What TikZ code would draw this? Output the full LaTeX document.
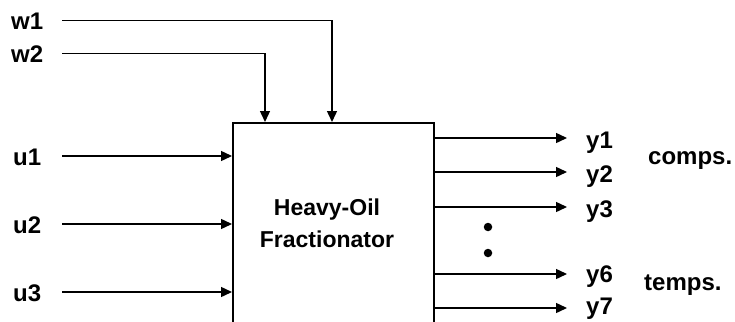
\documentclass[tikz,border=0pt]{standalone}
\usepackage{fontspec}
\setmainfont{Liberation Sans}
\usetikzlibrary{arrows.meta}
\begin{document}
\begin{tikzpicture}[x=1pt,y=-1pt,
  lab/.style={font=\bfseries\fontsize{24}{28}\selectfont, inner sep=0pt, text height=17pt, text depth=0pt},
  conn/.style={line width=1.4pt, -{Triangle[length=11pt,width=10pt]}},
  dotmark/.style={circle, fill, inner sep=0pt, minimum size=8.5pt},
  blockbox/.style={draw, line width=1.8pt, inner sep=0pt, minimum width=201pt, minimum height=240pt}
]
\useasboundingbox (0,0) rectangle (735,321);
\clip (0,0) rectangle (735,321);
% block
\node[blockbox, anchor=north west] (box) at (232,122) {};
\node[font=\bfseries\fontsize{23}{32}\selectfont, align=center, inner sep=0pt] (title) at (327,223) {Heavy-Oil\\Fractionator};
% inputs
\node[lab, anchor=west] (w1) at (11,21) {w1};
\node[lab, anchor=west] (w2) at (11,54) {w2};
\node[lab, anchor=west] (u1) at (13,157) {u1};
\node[lab, anchor=west] (u2) at (13,225) {u2};
\node[lab, anchor=west] (u3) at (13,293) {u3};
\coordinate (w1s) at (62,20.5);
\coordinate (w2s) at (62,53.5);
\coordinate (w1e) at (332,122);
\coordinate (w2e) at (265,122);
\coordinate (u1s) at (62,156);
\coordinate (u2s) at (62,224);
\coordinate (u3s) at (62,292);
\draw[conn] (w1s) -| (w1e);
\draw[conn] (w2s) -| (w2e);
\draw[conn] (u1s) -- (box.west |- u1s);
\draw[conn] (u2s) -- (box.west |- u2s);
\draw[conn] (u3s) -- (box.west |- u3s);
% outputs
\coordinate (y1e) at (567,138);
\coordinate (y2e) at (567,172);
\coordinate (y3e) at (567,207);
\coordinate (y6e) at (567,274);
\coordinate (y7e) at (567,308);
\draw[conn] (box.east |- y1e) -- (y1e);
\draw[conn] (box.east |- y2e) -- (y2e);
\draw[conn] (box.east |- y3e) -- (y3e);
\draw[conn] (box.east |- y6e) -- (y6e);
\draw[conn] (box.east |- y7e) -- (y7e);
\node[lab, anchor=west] (y1) at (586,139.5) {y1};
\node[lab, anchor=west] (y2) at (586,173.5) {y2};
\node[lab, anchor=west] (y3) at (586,208.5) {y3};
\node[lab, anchor=west] (y6) at (586,273.5) {y6};
\node[lab, anchor=west] (y7) at (586,306) {y7};
\node[lab, anchor=west] (comps) at (648,155.5) {comps.};
\node[lab, anchor=west] (temps) at (644,282) {temps.};
\node[dotmark] (d1) at (488,227) {};
\node[dotmark] (d2) at (488,253) {};
\end{tikzpicture}
\end{document}
